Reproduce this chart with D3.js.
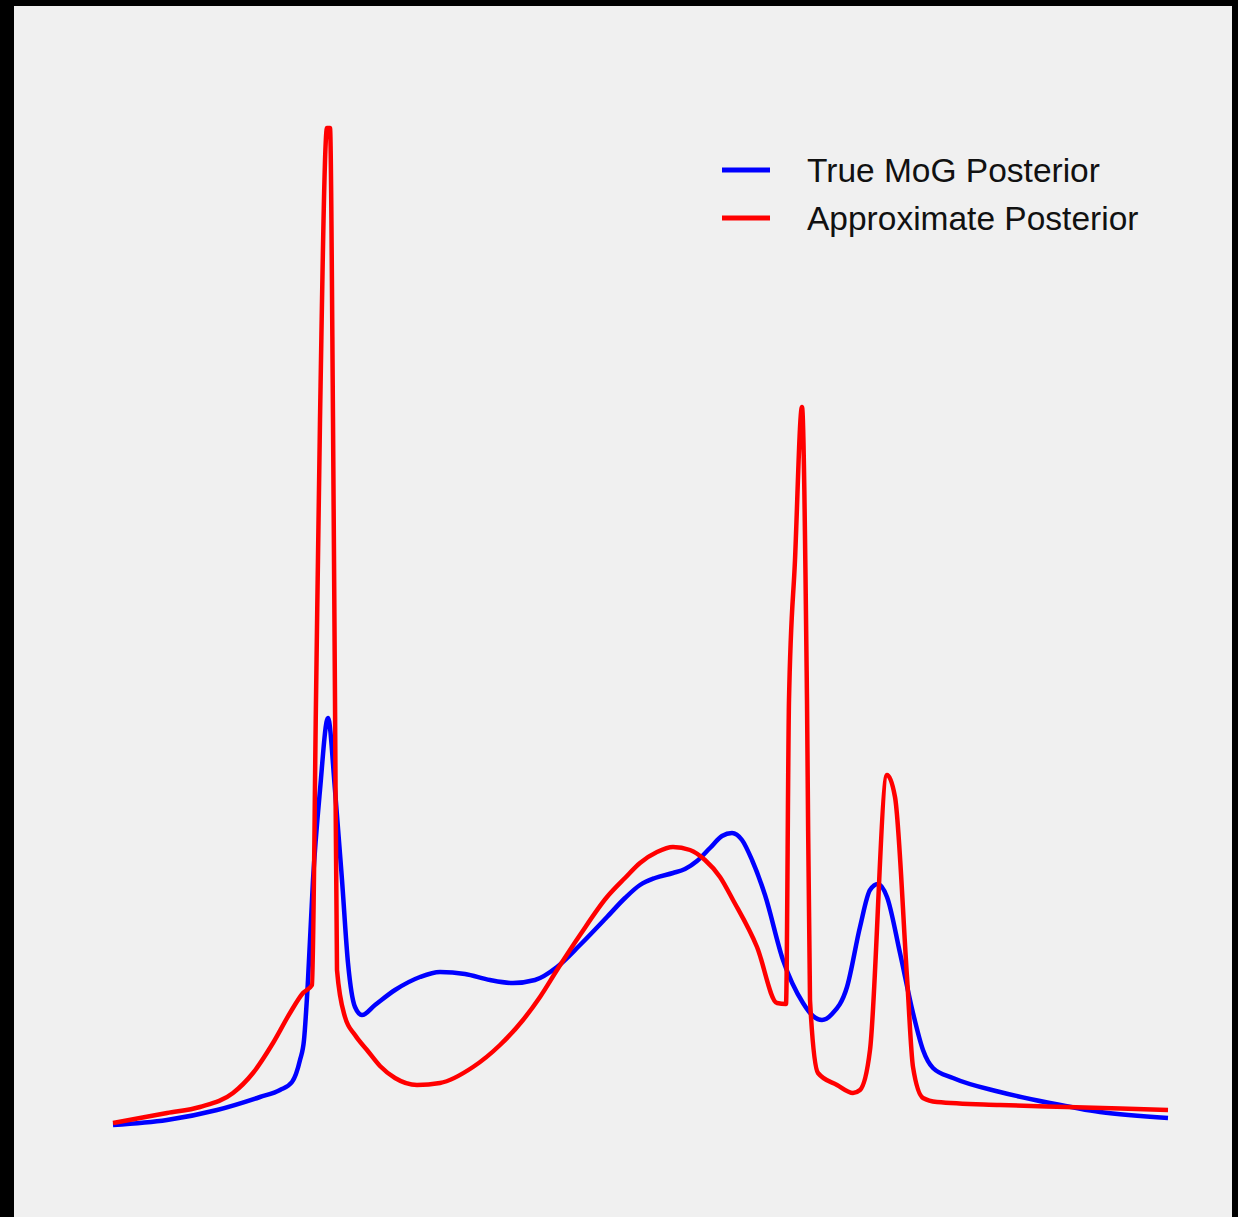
<!DOCTYPE html>
<html>
<head>
<meta charset="utf-8">
<script src="https://cdn.jsdelivr.net/npm/d3@7"></script>
<style>
  html, body { margin: 0; padding: 0; background: #000; }
  svg { display: block; }
</style>
</head>
<body>
<script>
// x in arbitrary units, y = density (peak of approximation ~1)
var trueX = [0, 5.4, 10.4, 14.7, 16.7, 17.9, 18.7, 19.1, 19.5, 20.0, 20.7, 21.5, 22.2, 22.9, 23.5, 24.2, 24.9,
  26.2, 28.2, 30.7, 32.7, 35.2, 37.7, 40.0, 42.2, 44.4, 46.7, 49.4, 51.2, 52.7, 54.2, 56.0, 57.2, 58.4, 59.7,
  60.9, 61.9, 62.9, 63.9, 65.2, 67.0, 69.0, 70.0, 70.9, 71.9, 73.4, 74.7, 75.7, 76.5, 77.4, 78.7, 80.0, 81.0,
  82.0, 84.0, 88.7, 93.7, 98.7, 105.5];
var trueY = [0.010, 0.015, 0.025, 0.038, 0.045, 0.053, 0.075, 0.095, 0.155, 0.255, 0.345, 0.417, 0.345, 0.255,
  0.172, 0.128, 0.120, 0.130, 0.145, 0.158, 0.163, 0.161, 0.155, 0.152, 0.155, 0.168, 0.190, 0.218, 0.237,
  0.250, 0.257, 0.262, 0.266, 0.274, 0.287, 0.299, 0.302, 0.295, 0.275, 0.240, 0.175, 0.132, 0.119, 0.115,
  0.121, 0.148, 0.208, 0.245, 0.251, 0.238, 0.182, 0.122, 0.085, 0.067, 0.057, 0.043, 0.032, 0.023, 0.017];

var approxX = [0, 5.4, 8.7, 12.0, 14.0, 16.0, 17.7, 19.0, 19.9, 20.3, 20.7, 21.4, 21.7, 22.0, 22.2, 22.4, 23.2,
  24.2, 25.4, 26.7, 28.2, 30.4, 32.7, 36.0, 38.7, 41.0, 42.7, 44.4, 46.7, 49.4, 51.2, 52.7, 54.4, 56.0, 57.7,
  59.2, 60.7, 62.0, 64.4, 66.4, 67.3, 67.6, 68.2, 68.9, 69.4, 69.7, 70.5, 72.4, 74.0, 74.7, 75.7, 77.4, 78.2,
  79.4, 80.0, 81.0, 82.4, 88.7, 95.4, 105.5];
var approxY = [0.012, 0.022, 0.028, 0.042, 0.062, 0.092, 0.122, 0.142, 0.150, 0.435, 0.715, 1.007, 1.007, 0.715,
  0.435, 0.165, 0.118, 0.100, 0.085, 0.069, 0.057, 0.050, 0.052, 0.068, 0.090, 0.115, 0.138, 0.165, 0.200,
  0.238, 0.257, 0.272, 0.283, 0.288, 0.285, 0.275, 0.258, 0.235, 0.188, 0.132, 0.131, 0.435, 0.575, 0.728,
  0.435, 0.135, 0.062, 0.050, 0.042, 0.045, 0.085, 0.360, 0.338, 0.158, 0.068, 0.037, 0.033, 0.030, 0.028, 0.025];

var seriesNames = ["True MoG Posterior", "Approximate Posterior"];
var seriesColors = ["#0000ff", "#ff0000"];

var W = 1238, H = 1217;

var svg = d3.select("body").append("svg")
    .attr("width", W)
    .attr("height", H);

svg.append("rect")
    .attr("x", 14).attr("y", 6)
    .attr("width", 1218).attr("height", H - 6)
    .attr("fill", "#f0f0f0");

var x = d3.scaleLinear().domain([0, 105.7]).range([113, 1170]);
var y = d3.scaleLinear().domain([0, 1]).range([1135, 135]);

function zip(xs, ys) {
    return xs.map(function(v, i) { return [v, ys[i]]; });
}

// monotone keeps the spikes and kinks sharp but smooths the slow parts
var line = d3.line()
    .x(function(d) { return x(d[0]); })
    .y(function(d) { return y(d[1]); })
    .curve(d3.curveMonotoneX);

var series = [zip(trueX, trueY), zip(approxX, approxY)];

series.forEach(function(pts, i) {
    svg.append("path")
        .datum(pts)
        .attr("d", line)
        .attr("fill", "none")
        .attr("stroke", seriesColors[i])
        .attr("stroke-width", 4.5)
        .attr("stroke-linejoin", "round");
});

// legend
var legend = svg.append("g").attr("transform", "translate(722,170)");
seriesNames.forEach(function(name, i) {
    var g = legend.append("g").attr("transform", "translate(0," + (i * 48) + ")");
    g.append("line")
        .attr("x1", 0).attr("x2", 48)
        .attr("y1", 0).attr("y2", 0)
        .attr("stroke", seriesColors[i])
        .attr("stroke-width", 5);
    g.append("text")
        .attr("x", 85).attr("y", 12)
        .attr("font-family", "Liberation Sans, Arial, sans-serif")
        .attr("font-size", 33.5)
        .attr("fill", "#111")
        .text(name);
});
</script>
</body>
</html>
